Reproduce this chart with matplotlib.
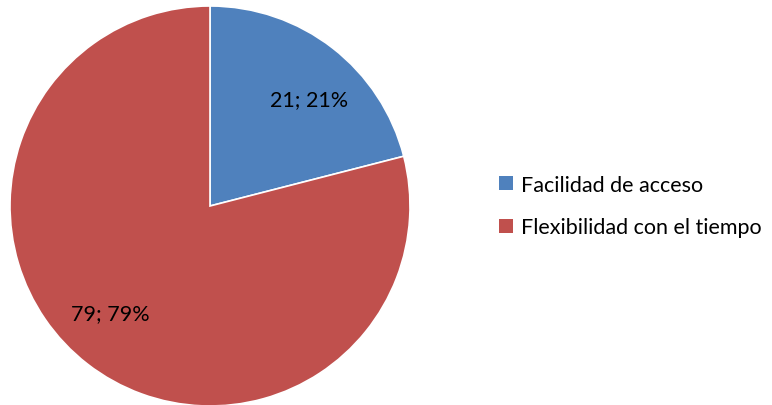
import numpy as np
import matplotlib.pyplot as plt
from matplotlib.patches import Patch

categories = ["Facilidad de acceso", "Flexibilidad con el tiempo"]
values = [21, 79]
colors = ["#4F81BD", "#C0504D"]

plt.rcParams['font.family'] = ['Lato', 'DejaVu Sans']

fig = plt.figure(figsize=(7.72, 4.06), dpi=100, facecolor="white")
ax = fig.add_axes([10 / 772, -1 / 406, 400 / 772, 400 / 406])

total = sum(values)
wedges, texts, autotexts = ax.pie(
    values,
    colors=colors,
    startangle=90,
    counterclock=False,
    radius=1,
    wedgeprops=dict(edgecolor="white", linewidth=1.2),
    autopct=lambda p: f"{round(p * total / 100)}; {p:.0f}%",
    pctdistance=0.73,
    textprops=dict(fontsize=15.5, color="black"),
)

# labels sit a bit clockwise of the wedge middle, like in the original
for w, t in zip(wedges, autotexts):
    ang = np.deg2rad((w.theta1 + w.theta2) / 2 - 5)
    t.set_position((0.73 * np.cos(ang), 0.73 * np.sin(ang)))

ax.set_xlim(-1, 1)
ax.set_ylim(-1, 1)
ax.set_aspect("equal")
ax.axis("off")

handles = [Patch(facecolor=c, edgecolor="none") for c in colors]
fig.legend(
    handles, categories,
    loc="center left",
    bbox_to_anchor=(480 / 772, 1 - 207 / 406),
    frameon=False,
    fontsize=15.5,
    handlelength=0.65,
    handleheight=0.65,
    handletextpad=0.35,
    labelspacing=1.05,
)

fig.savefig("out.png", dpi=100, facecolor="white")
